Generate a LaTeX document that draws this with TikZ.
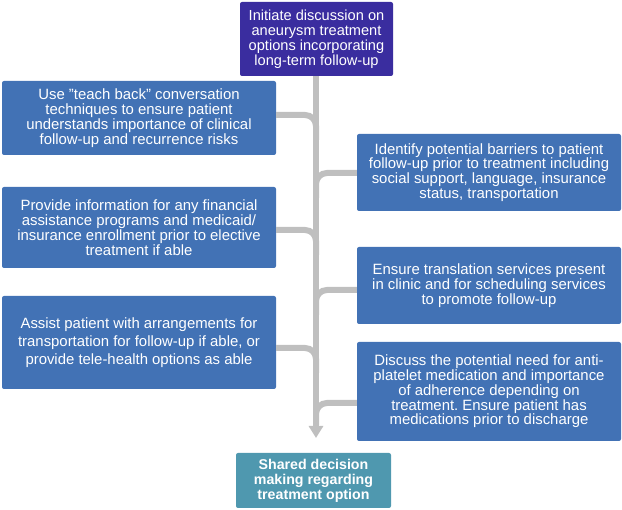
\documentclass[tikz,border=0pt]{standalone}
\usepackage{fontspec}
\setmainfont{Liberation Sans}
\usetikzlibrary{arrows.meta}
\definecolor{topc}{HTML}{3A2D9F}
\definecolor{boxc}{HTML}{4272B5}
\definecolor{endc}{HTML}{4F98AF}
\definecolor{linec}{HTML}{BFBFBF}
\frenchspacing
\begin{document}
\begin{tikzpicture}[x=1pt,y=-1pt,
  box/.style={draw=none, fill=boxc, text=white, rounded corners=2pt, align=center, inner sep=0pt,
    font=\fontsize{14.9}{14.8}\selectfont},
  conn/.style={draw=linec, line width=6pt, rounded corners=11pt},
  trunk/.style={draw=linec, line width=6pt, -{Triangle[width=14pt,length=12pt]}}]
\useasboundingbox (0,0) rectangle (622,510);
\node[box, fill=topc, minimum width=153pt, minimum height=74pt, font=\fontsize{14.6}{15}\selectfont] (top) at (316.5,39)
  {Initiate discussion on\\aneurysm treatment\\options incorporating\\long-term follow-up};
\node[box, minimum width=274pt, minimum height=74pt] (l1) at (139,118)
  {Use "teach back" conversation\\techniques to ensure patient\\understands importance of clinical\\follow-up and recurrence risks};
\node[box, minimum width=274pt, minimum height=81pt] (l2) at (139,227.5)
  {Provide information for any financial\\assistance programs and medicaid/\\insurance enrollment prior to elective\\treatment if able};
\node[box, minimum width=274pt, minimum height=93pt, font=\fontsize{14.9}{18}\selectfont] (l3) at (139,342.5)
  {Assist patient with arrangements for\\transportation for follow-up if able, or\\provide tele-health options as able};
\node[box, minimum width=264pt, minimum height=77pt] (r1) at (489,172.5)
  {Identify potential barriers to patient\\follow-up prior to treatment including\\social support, language, insurance\\status, transportation};
\node[box, minimum width=264pt, minimum height=77pt] (r2) at (489,285.5)
  {Ensure translation services present\\in clinic and for scheduling services\\to promote follow-up};
\node[box, minimum width=264pt, minimum height=99pt] (r3) at (489,391.5)
  {Discuss the potential need for anti-\\platelet medication and importance\\of adherence depending on\\treatment. Ensure patient has\\medications prior to discharge};
\node[box, fill=endc, minimum width=155pt, minimum height=55pt, font=\bfseries\fontsize{14.2}{15}\selectfont] (end) at (313.5,480.5)
  {Shared decision\\making regarding\\treatment option};
\coordinate (tip) at (316,438);
\draw[trunk] (top.south -| tip) -- (tip);
\draw[conn] (l1.east |- 0,115) -- (316,115) -- (316,140);
\draw[conn] (r1.west |- 0,173) -- (316,173) -- (316,198);
\draw[conn] (l2.east |- 0,230) -- (316,230) -- (316,255);
\draw[conn] (r2.west |- 0,290) -- (316,290) -- (316,315);
\draw[conn] (l3.east |- 0,348) -- (316,348) -- (316,373);
\draw[conn] (r3.west |- 0,403) -- (316,403) -- (316,425);
\end{tikzpicture}
\end{document}
